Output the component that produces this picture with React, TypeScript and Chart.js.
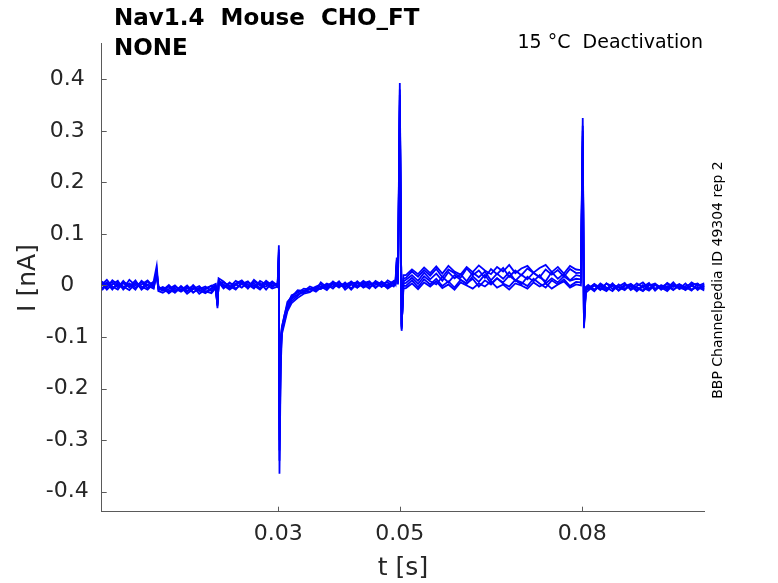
import React, { useEffect, useRef } from "react";
import { Chart, registerables } from "chart.js";

Chart.register(...registerables);

// time samples [s]
const T = [
  0.001, 0.0018, 0.0027, 0.0036, 0.0045, 0.0055, 0.0065, 0.0075, 0.0085, 0.0095,
  0.0100, 0.0103,
  0.011, 0.012, 0.013, 0.014, 0.015, 0.016, 0.017, 0.018, 0.019,
  0.0197, 0.0200, 0.0202,
  0.021, 0.022, 0.023, 0.024, 0.025, 0.026, 0.027, 0.028, 0.029,
  0.0299, 0.0301, 0.0302, 0.0304, 0.0306, 0.0310, 0.0315, 0.0322, 0.0332, 0.0342, 0.0352, 0.0362,
  0.037, 0.038, 0.039, 0.040, 0.041, 0.042, 0.043, 0.044, 0.045, 0.046, 0.047, 0.048, 0.049,
  0.0493, 0.0495, 0.0497, 0.0500, 0.0503, 0.0506,
  0.051, 0.052, 0.053, 0.054, 0.055, 0.056, 0.057, 0.058, 0.059, 0.060,
  0.061, 0.062, 0.063, 0.064, 0.065, 0.066, 0.067, 0.068, 0.069, 0.070,
  0.071, 0.072, 0.073, 0.074, 0.075, 0.076, 0.077, 0.078, 0.079,
  0.0798, 0.0801, 0.0803, 0.0806,
  0.081, 0.082, 0.083, 0.084, 0.085, 0.086, 0.087, 0.088, 0.089, 0.090,
  0.091, 0.092, 0.093, 0.094, 0.095, 0.096, 0.097, 0.098, 0.099, 0.100, 0.1001,
];

// current sweeps [nA]
const SWEEP_1 = [
  0.008, -0.004, 0.01, 0.002, -0.006, 0.011, 0.0, 0.006, -0.005, 0.008,
  0.038, -0.006,
  -0.01, -0.002, -0.014, -0.003, -0.012, 0.001, -0.011, -0.005, -0.001,
  0.003, -0.044, 0.014,
  0.008, -0.003, 0.009, 0.003, -0.005, 0.011, 0.001, 0.007, -0.003,
  0.004, 0.078, -0.365, -0.16, -0.094, -0.075, -0.05, -0.034, -0.024, -0.016, -0.013, -0.005,
  -0.007, 0.002, -0.006, 0.006, -0.002, 0.008, -0.001, 0.009, 0.001, 0.007, -0.003, 0.01, 0.003,
  0.012, 0.054, 0.02, 0.393, -0.088, 0.02,
  0.02, 0.031, 0.022, 0.035, 0.024, 0.037, 0.023, 0.038, 0.027, 0.021,
  0.036, 0.026, 0.039, 0.029, 0.022, 0.036, 0.027, 0.04, 0.024, 0.033,
  0.038, 0.025, 0.034, 0.04, 0.026, 0.036, 0.023, 0.038, 0.031,
  0.03, 0.325, -0.083, -0.014,
  -0.01, 0.0, -0.009, 0.004, -0.007, -0.002, 0.005, -0.009, -0.001, 0.006,
  -0.006, 0.002, -0.008, 0.005, -0.003, 0.003, -0.006, 0.006, -0.001, 0.004, 0.0,
];
const SWEEP_2 = [
  -0.006, 0.005, -0.008, 0.006, -0.002, -0.009, 0.004, -0.006, 0.008, -0.002,
  0.03, -0.009,
  -0.004, -0.015, -0.006, -0.012, -0.002, -0.014, -0.004, -0.011, -0.015,
  -0.005, -0.04, 0.011,
  -0.004, 0.006, -0.006, 0.003, 0.008, -0.004, 0.005, -0.008, 0.006,
  -0.003, 0.07, -0.34, -0.14, -0.09, -0.07, -0.046, -0.03, -0.02, -0.01, -0.012, -0.004,
  -0.002, -0.009, 0.004, -0.004, 0.006, -0.006, 0.008, -0.002, 0.006, -0.005, 0.008, -0.001, 0.009,
  0.006, 0.049, 0.013, 0.38, -0.085, 0.013,
  0.015, 0.027, 0.017, 0.03, 0.019, 0.032, 0.016, 0.031, 0.024, 0.015,
  0.033, 0.02, 0.029, 0.015, 0.032, 0.022, 0.034, 0.017, 0.029, 0.02,
  0.033, 0.024, 0.016, 0.031, 0.021, 0.03, 0.017, 0.032, 0.024,
  0.025, 0.31, -0.08, -0.009,
  -0.002, -0.011, 0.002, -0.007, 0.004, -0.01, -0.001, 0.003, -0.009, -0.003,
  0.005, -0.01, 0.001, -0.005, 0.006, -0.007, -0.001, 0.003, -0.009, 0.001, -0.003,
];
const SWEEP_3 = [
  0.002, 0.011, -0.002, -0.008, 0.006, 0.002, -0.008, 0.009, 0.0, -0.006,
  0.026, -0.002,
  -0.009, 0.001, -0.011, -0.003, -0.016, -0.007, -0.001, -0.013, -0.005,
  -0.001, -0.038, 0.009,
  0.002, -0.006, 0.004, 0.01, -0.002, 0.004, -0.005, 0.009, 0.0,
  0.002, 0.065, -0.32, -0.13, -0.088, -0.066, -0.042, -0.026, -0.017, -0.013, -0.006, -0.009,
  0.006, -0.004, 0.008, -0.001, 0.004, -0.008, 0.004, 0.002, -0.006, 0.009, 0.002, -0.004, 0.006,
  0.008, 0.046, 0.011, 0.37, -0.082, 0.008,
  0.011, 0.02, 0.009, 0.025, 0.012, 0.023, 0.009, 0.026, 0.014, 0.022,
  0.008, 0.025, 0.016, 0.027, 0.01, 0.023, 0.013, 0.026, 0.009, 0.021,
  0.012, 0.025, 0.016, 0.008, 0.026, 0.013, 0.023, 0.01, 0.02,
  0.018, 0.3, -0.078, -0.007,
  -0.007, 0.003, -0.005, -0.011, 0.001, -0.003, -0.009, 0.003, -0.005, -0.011,
  0.0, 0.004, -0.008, -0.001, -0.009, 0.002, -0.003, -0.01, 0.003, -0.006, -0.001,
];
const SWEEP_4 = [
  -0.009, 0.001, 0.006, -0.004, 0.009, -0.004, 0.006, -0.002, -0.008, 0.004,
  0.021, -0.011,
  -0.014, -0.007, 0.0, -0.011, -0.006, -0.002, -0.016, -0.008, 0.0,
  -0.006, -0.036, 0.007,
  0.006, -0.001, -0.008, 0.006, 0.002, -0.006, 0.009, 0.002, -0.006,
  -0.002, 0.06, -0.3, -0.12, -0.085, -0.062, -0.04, -0.024, -0.011, -0.015, -0.006, -0.012,
  -0.004, 0.004, -0.002, 0.008, -0.008, 0.002, -0.004, 0.006, -0.002, 0.001, 0.006, -0.006, 0.002,
  0.003, 0.041, 0.007, 0.36, -0.08, 0.004,
  0.005, 0.015, 0.003, 0.018, 0.008, 0.002, 0.017, 0.006, 0.02, 0.011,
  0.003, 0.018, 0.007, 0.021, 0.004, 0.014, 0.006, 0.019, 0.01, 0.002,
  0.017, 0.008, 0.02, 0.004, 0.014, 0.006, 0.018, 0.009, 0.013,
  0.012, 0.29, -0.075, -0.006,
  -0.001, -0.009, 0.004, -0.004, -0.011, 0.002, -0.006, -0.001, -0.011, 0.001,
  -0.008, 0.003, -0.004, -0.011, 0.001, -0.006, 0.004, -0.008, -0.003, -0.009, -0.005,
];
const SWEEP_5 = [
  0.004, -0.008, 0.002, 0.009, -0.008, 0.004, -0.004, 0.002, 0.01, -0.004,
  0.019, -0.004,
  -0.007, -0.013, -0.002, -0.009, 0.0, -0.013, -0.007, -0.002, -0.011,
  -0.003, -0.034, 0.006,
  -0.006, 0.004, 0.002, -0.004, 0.006, 0.0, -0.008, 0.004, 0.003,
  0.003, 0.055, -0.28, -0.11, -0.082, -0.058, -0.037, -0.019, -0.014, -0.006, -0.008, -0.002,
  0.002, -0.006, 0.004, -0.002, 0.002, 0.006, -0.004, 0.004, 0.008, -0.004, 0.004, 0.006, -0.002,
  0.004, 0.038, 0.004, 0.35, -0.078, 0.0,
  -0.001, 0.01, -0.003, 0.012, 0.002, 0.013, -0.001, 0.008, -0.004, 0.011,
  0.004, 0.013, -0.002, 0.01, 0.002, 0.014, 0.004, -0.002, 0.011, 0.006,
  -0.001, 0.013, 0.004, -0.004, 0.01, 0.002, 0.012, -0.001, 0.007,
  0.006, 0.28, -0.072, -0.005,
  -0.005, 0.002, -0.008, 0.004, -0.002, -0.009, 0.002, -0.006, 0.004, -0.004,
  -0.01, 0.001, -0.004, 0.004, -0.008, -0.001, -0.009, 0.001, 0.004, -0.006, -0.002,
];
const SWEEP_6 = [
  0.0, 0.006, -0.006, 0.001, 0.004, -0.002, 0.01, -0.008, 0.002, 0.006,
  0.016, -0.007,
  -0.003, -0.009, -0.013, -0.001, -0.011, -0.005, -0.009, -0.015, -0.007,
  0.001, -0.032, 0.004,
  0.0, -0.008, 0.001, 0.008, -0.006, 0.008, 0.0, -0.002, 0.008,
  0.0, 0.05, -0.26, -0.1, -0.08, -0.06, -0.032, -0.022, -0.009, -0.011, -0.002, -0.007,
  -0.006, 0.0, 0.006, 0.002, -0.004, 0.004, 0.006, -0.004, 0.002, 0.004, -0.002, 0.002, 0.008,
  0.002, 0.035, 0.002, 0.34, -0.075, -0.006,
  -0.005, 0.004, -0.007, 0.006, -0.002, 0.008, -0.005, 0.002, -0.008, 0.006,
  0.0, -0.006, 0.004, -0.002, 0.008, -0.004, 0.002, -0.008, 0.004, 0.0,
  -0.006, 0.006, -0.002, 0.004, -0.006, 0.002, 0.008, -0.004, 0.002,
  0.0, 0.27, -0.07, -0.003,
  0.001, -0.008, -0.001, -0.01, 0.002, -0.004, -0.008, 0.001, -0.003, -0.01,
  0.002, -0.006, -0.001, -0.008, 0.002, -0.004, -0.008, -0.001, -0.006, 0.001, -0.003,
];
const SWEEPS = [SWEEP_1, SWEEP_2, SWEEP_3, SWEEP_4, SWEEP_5, SWEEP_6];

const X_TICKS = [0.03, 0.05, 0.08];
const Y_TICKS = [-0.4, -0.3, -0.2, -0.1, 0, 0.1, 0.2, 0.3, 0.4];
const X_MIN = 0.00095;
const X_MAX = 0.1001;
const Y_MIN = -0.4388;
const Y_MAX = 0.4698;

const TITLE_LINES = ["Nav1.4  Mouse  CHO_FT", "NONE"];
const SUBTITLE = "15 \u00B0C  Deactivation";
const SIDE_NOTE = "BBP Channelpedia ID 49304 rep 2";
const X_LABEL = "t [s]";
const Y_LABEL = "I [nA]";

const AXIS_COLOR = "#5a5a5a";
const TEXT_COLOR = "#262626";
const FONT = "DejaVu Sans";

const fmt = (v: number) => String(Number(v.toFixed(3)));

const overlay = {
  id: "overlay",
  afterDraw(chart: any) {
    const { ctx, chartArea, scales } = chart;
    const xs = scales.x;
    const ys = scales.y;
    ctx.save();
    // inward tick marks
    ctx.strokeStyle = AXIS_COLOR;
    ctx.lineWidth = 1;
    ctx.beginPath();
    Y_TICKS.forEach((v) => {
      const py = Math.round(ys.getPixelForValue(v)) + 0.5;
      ctx.moveTo(chartArea.left, py);
      ctx.lineTo(chartArea.left + 5, py);
    });
    X_TICKS.forEach((v) => {
      const px = Math.round(xs.getPixelForValue(v)) + 0.5;
      ctx.moveTo(px, chartArea.bottom);
      ctx.lineTo(px, chartArea.bottom - 5);
    });
    ctx.stroke();

    // title
    ctx.fillStyle = "#000";
    ctx.textAlign = "left";
    ctx.textBaseline = "alphabetic";
    ctx.font = `bold 23px "${FONT}"`;
    ctx.fillText(TITLE_LINES[0], 114, 25);
    ctx.fillText(TITLE_LINES[1], 114, 55);

    ctx.font = `19px "${FONT}"`;
    ctx.textAlign = "right";
    ctx.fillText(SUBTITLE, 703, 48);

    // axis labels
    ctx.fillStyle = TEXT_COLOR;
    ctx.font = `25px "${FONT}"`;
    ctx.textAlign = "center";
    ctx.fillText(X_LABEL, (chartArea.left + chartArea.right) / 2, 575);

    ctx.save();
    ctx.translate(35, 278);
    ctx.rotate(-Math.PI / 2);
    ctx.fillText(Y_LABEL, 0, 0);
    ctx.restore();

    // side note
    ctx.save();
    ctx.fillStyle = "#000";
    ctx.font = `14px "${FONT}"`;
    ctx.translate(722, 280);
    ctx.rotate(-Math.PI / 2);
    ctx.textAlign = "center";
    ctx.fillText(SIDE_NOTE, 0, 0);
    ctx.restore();

    ctx.restore();
  },
};

export default function App() {
  const ref = useRef<HTMLCanvasElement | null>(null);
  useEffect(() => {
    const canvas = ref.current;
    if (!canvas) return;
    const chart = new Chart(canvas, {
      type: "line",
      data: {
        datasets: SWEEPS.map((s) => ({
          data: T.map((t, i) => ({ x: t, y: s[i] })),
          borderColor: "#0000ff",
          backgroundColor: "#0000ff",
          borderWidth: 1.8,
          pointRadius: 0,
          tension: 0,
          fill: false,
        })),
      },
      options: {
        animation: false,
        responsive: false,
        devicePixelRatio: 1,
        layout: { padding: { top: 43.3, right: 73.7, left: 0, bottom: 0 } },
        plugins: {
          legend: { display: false },
          tooltip: { enabled: false },
          title: { display: false },
        },
        scales: {
          x: {
            type: "linear",
            min: X_MIN,
            max: X_MAX,
            grid: { display: false, drawTicks: false },
            border: { display: true, color: AXIS_COLOR, width: 1 },
            ticks: {
              padding: 9,
              color: TEXT_COLOR,
              font: { family: FONT, size: 22 },
              maxRotation: 0,
              autoSkip: false,
              callback: (v: any) => fmt(Number(v)),
            },
            afterBuildTicks: (s: any) => {
              s.ticks = X_TICKS.map((v) => ({ value: v }));
            },
            afterFit: (s: any) => {
              s.height = 71.3;
            },
          },
          y: {
            type: "linear",
            min: Y_MIN,
            max: Y_MAX,
            grid: { display: false, drawTicks: false },
            border: { display: true, color: AXIS_COLOR, width: 1 },
            ticks: {
              padding: 13,
              crossAlign: "center",
              color: TEXT_COLOR,
              font: { family: FONT, size: 22 },
              autoSkip: false,
              callback: (v: any) => fmt(Number(v)),
            },
            afterBuildTicks: (s: any) => {
              s.ticks = Y_TICKS.map((v) => ({ value: v }));
            },
            afterFit: (s: any) => {
              s.width = 101.7;
            },
          },
        },
      },
      plugins: [overlay],
    });
    return () => chart.destroy();
  }, []);
  return (
    <div style={{ position: "fixed", left: 0, top: 0, width: 778, height: 583, background: "#fff" }}>
      <canvas ref={ref} width={778} height={583} style={{ display: "block", width: 778, height: 583 }} />
    </div>
  );
}
